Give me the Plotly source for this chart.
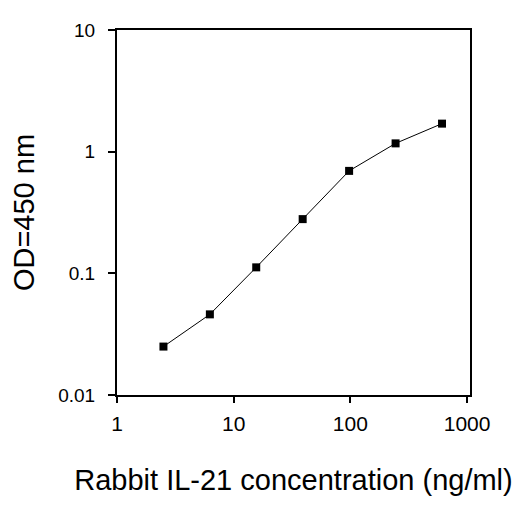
import plotly.graph_objects as go

concentration = [2.5, 6.25, 15.6, 39, 97.5, 244, 610]
od450 = [0.025, 0.046, 0.112, 0.279, 0.695, 1.17, 1.70]

x_tickvals = [1, 10, 100, 1000]
x_ticktext = ["1", "10", "100", "1000"]
y_tickvals = [0.01, 0.1, 1, 10]
y_ticktext = ["0.01", "0.1", "1", "10"]

fig = go.Figure()
fig.add_trace(go.Scatter(
    x=concentration, y=od450, mode="lines+markers",
    line=dict(color="black", width=1),
    marker=dict(symbol="square", size=8, color="black"),
    showlegend=False,
))

font = "Liberation Sans, Arial, sans-serif"
fig.update_layout(
    width=524, height=508,
    margin=dict(l=109, r=62, t=14, b=121),
    paper_bgcolor="white", plot_bgcolor="white",
    font=dict(family=font, color="black"),
)
fig.update_xaxes(
    type="log", range=[0, 3.025],
    tickvals=x_tickvals, ticktext=x_ticktext,
    tickfont=dict(size=21),
    ticks="outside", ticklen=6, tickwidth=1.5, tickcolor="black",
    showline=True, linewidth=2, linecolor="black", mirror=True,
    showgrid=False, zeroline=False,
    ticklabelstandoff=3,
    title=dict(text="Rabbit IL-21 concentration (ng/ml)", font=dict(size=29), standoff=35),
)
fig.update_yaxes(
    type="log", range=[-2, 1],
    tickvals=y_tickvals, ticktext=y_ticktext,
    tickfont=dict(size=19),
    ticks="outside", ticklen=7, tickwidth=1.5, tickcolor="black",
    showline=True, linewidth=2, linecolor="black", mirror=True,
    showgrid=False, zeroline=False,
    ticklabelstandoff=9,
    title=dict(text="OD=450 nm", font=dict(size=29), standoff=16),
)
fig.write_html("out.html")
